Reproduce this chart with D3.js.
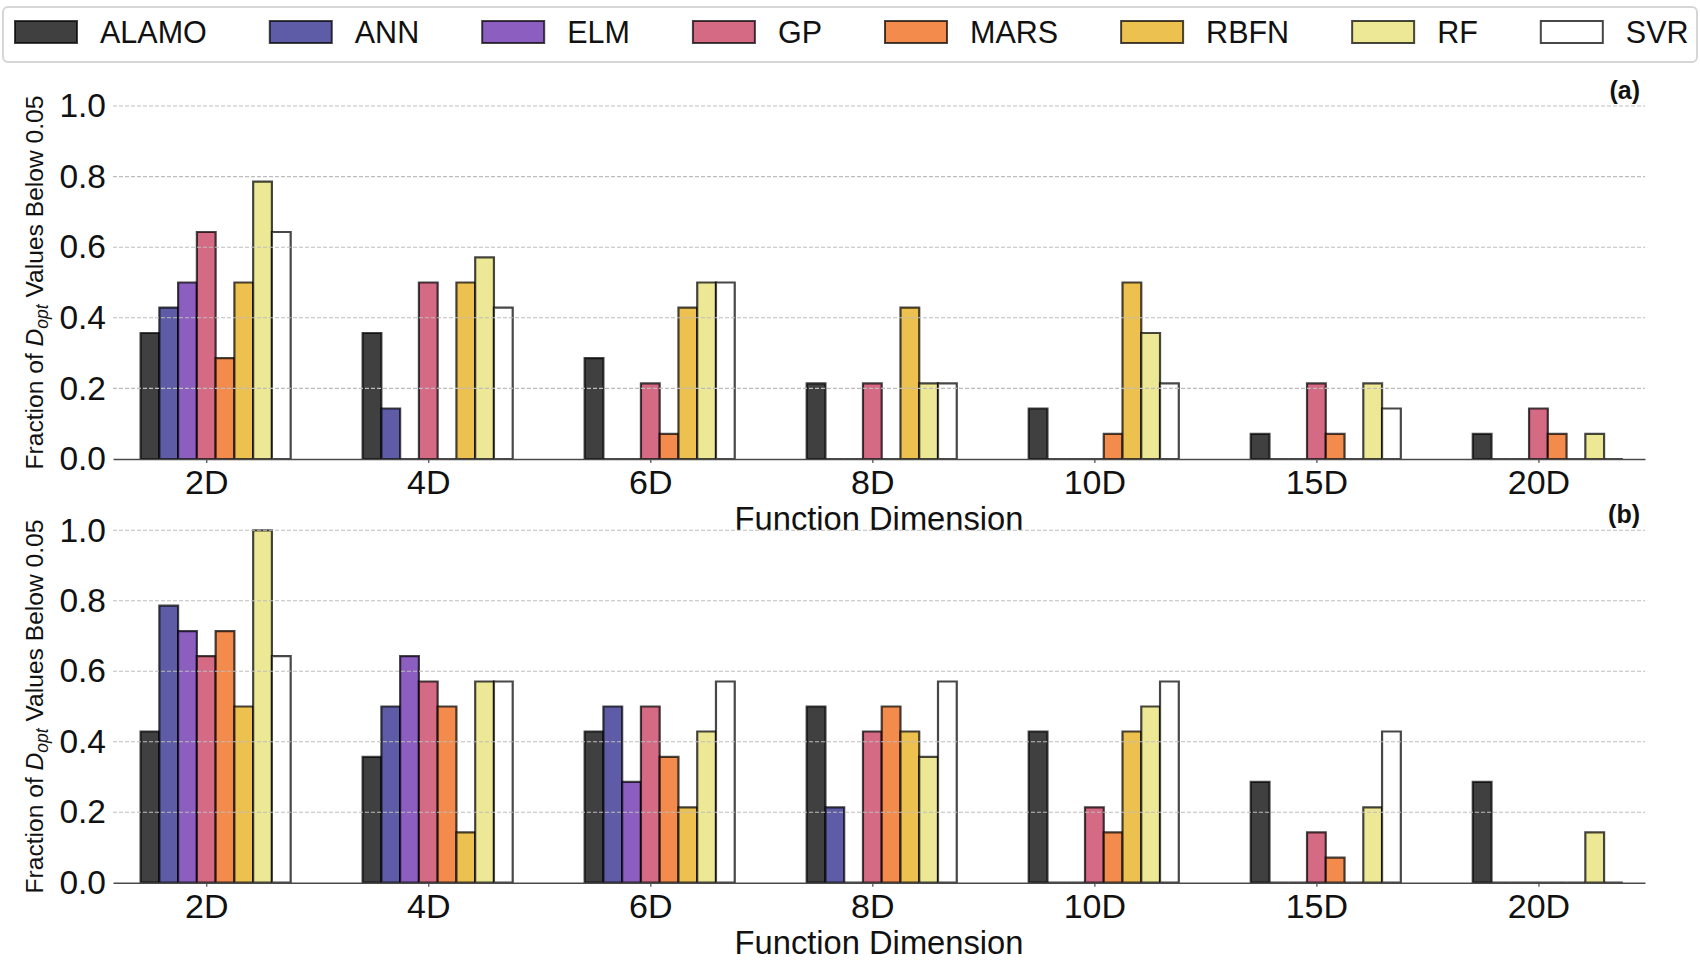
<!DOCTYPE html>
<html>
<head>
<meta charset="utf-8">
<script src="https://cdn.jsdelivr.net/npm/d3@7"></script>
<style>
  html, body { margin: 0; padding: 0; background: #fff; }
  svg { display: block; font-family: Arial, "Liberation Sans", Helvetica, sans-serif; }
</style>
</head>
<body>
<svg id="chart" width="1700" height="961"></svg>
<script>
// Function dimensions (groups along the x axis)
const dimensions = ["2D", "4D", "6D", "8D", "10D", "15D", "20D"];
// Surrogate model types (bars inside each group)
const models = ["ALAMO", "ANN", "ELM", "GP", "MARS", "RBFN", "RF", "SVR"];
const modelColors = ["#404040", "#5e5ba7", "#8b5ec0", "#d46a84", "#f38b4c", "#edc14f", "#ede896", "#ffffff"];
const yTicks = [0, 0.2, 0.4, 0.6, 0.8, 1.0];

// Panel (a): one row per model, one value per dimension
const fractionA = [
  [0.357, 0.357, 0.286, 0.214, 0.143, 0.071, 0.071], // ALAMO
  [0.429, 0.143, 0,     0,     0,     0,     0    ], // ANN
  [0.5,   0,     0,     0,     0,     0,     0    ], // ELM
  [0.643, 0.5,   0.214, 0.214, 0,     0.214, 0.143], // GP
  [0.286, 0,     0.071, 0,     0.071, 0.071, 0.071], // MARS
  [0.5,   0.5,   0.429, 0.429, 0.5,   0,     0    ], // RBFN
  [0.786, 0.571, 0.5,   0.214, 0.357, 0.214, 0.071], // RF
  [0.643, 0.429, 0.5,   0.214, 0.214, 0.143, 0    ]  // SVR
];

// Panel (b)
const fractionB = [
  [0.429, 0.357, 0.429, 0.5,   0.429, 0.286, 0.286], // ALAMO
  [0.786, 0.5,   0.5,   0.214, 0,     0,     0    ], // ANN
  [0.714, 0.643, 0.286, 0,     0,     0,     0    ], // ELM
  [0.643, 0.571, 0.5,   0.429, 0.214, 0.143, 0    ], // GP
  [0.714, 0.5,   0.357, 0.5,   0.143, 0.071, 0    ], // MARS
  [0.5,   0.143, 0.214, 0.429, 0.429, 0,     0    ], // RBFN
  [1.0,   0.571, 0.429, 0.357, 0.5,   0.214, 0.143], // RF
  [0.643, 0.571, 0.571, 0.571, 0.571, 0.429, 0    ]  // SVR
];

const svg = d3.select("#chart");
const left = 113, right = 1645;
const barWidth = 0.0845; // in group units

const x = d3.scaleLinear().domain([-0.42, 6.48]).range([left, right]);
const inner = d3.scaleBand().domain(models).range([-3.5 * barWidth, 4.5 * barWidth]);

// Legend
const legend = svg.append("g");
legend.append("rect")
  .attr("x", 3).attr("y", 7).attr("width", 1694).attr("height", 55)
  .attr("rx", 5).attr("fill", "#fff").attr("stroke", "#d6d6d6").attr("stroke-width", 2);
let lx = 15;
models.forEach((m, i) => {
  const g = legend.append("g").attr("transform", `translate(${lx},0)`);
  g.append("rect").attr("x", 0).attr("y", 21).attr("width", 62).attr("height", 22)
    .attr("fill", modelColors[i]).attr("stroke", "rgba(0,0,0,0.72)").attr("stroke-width", 2);
  const t = g.append("text").attr("x", 85).attr("y", 42.5)
    .attr("font-size", 30.5).attr("fill", "#111").text(m);
  const w = t.node().getComputedTextLength();
  lx += 85 + w + 63;
});

function panel(values, y0, y1, tag) {
  const y = d3.scaleLinear().domain([0, 1]).range([y0, y1]);
  const g = svg.append("g");

  // bars (zero values still leave their outline on the baseline)
  models.forEach((m, i) => {
    g.append("g").selectAll("path")
      .data(values[i].map((v, j) => ({ v, j })))
      .join("path")
      .attr("d", d => {
        const xa = x(d.j + inner(m)), xb = x(d.j + inner(m) + inner.bandwidth());
        return `M${xa},${y(0)}V${y(d.v)}H${xb}V${y(0)}Z`;
      })
      .attr("fill", modelColors[i])
      .attr("stroke", "rgba(0,0,0,0.72)")
      .attr("stroke-width", 2.2);
  });

  // horizontal grid (drawn above bars)
  g.append("g").selectAll("line")
    .data(yTicks.filter(t => t > 0))
    .join("line")
    .attr("x1", left).attr("x2", right)
    .attr("y1", d => y(d)).attr("y2", d => y(d))
    .attr("stroke", "#bdbdbd").attr("stroke-width", 1.1).attr("stroke-dasharray", "4,2");

  // x axis
  const xAxis = g.append("g").attr("transform", `translate(0,${y(0)})`)
    .call(d3.axisBottom(x).tickValues(d3.range(dimensions.length))
      .tickFormat(i => dimensions[i]).tickSize(4).tickSizeOuter(0).tickPadding(7));
  xAxis.select(".domain").attr("stroke", "#4a4a4a").attr("stroke-width", 1.6);
  xAxis.selectAll(".tick line").attr("stroke", "#4a4a4a").attr("stroke-width", 1.2);
  xAxis.selectAll(".tick text").attr("font-size", 34).attr("fill", "#111")
    .attr("font-family", "Arial, 'Liberation Sans', sans-serif");

  // y axis
  const yAxis = g.append("g").attr("transform", `translate(${left},0)`)
    .call(d3.axisLeft(y).tickValues(yTicks).tickFormat(d3.format(".1f")).tickSize(0).tickPadding(7));
  yAxis.select(".domain").remove();
  yAxis.selectAll(".tick text").attr("font-size", 33.5).attr("fill", "#111")
    .attr("font-family", "Arial, 'Liberation Sans', sans-serif");

  // axis titles
  g.append("text")
    .attr("x", (left + right) / 2).attr("y", y(0) + 71)
    .attr("text-anchor", "middle").attr("font-size", 32.7).attr("fill", "#111")
    .text("Function Dimension");

  const yl = g.append("text")
    .attr("transform", `translate(43,${(y0 + y1) / 2}) rotate(-90)`)
    .attr("text-anchor", "middle").attr("font-size", 24.6).attr("fill", "#111");
  yl.append("tspan").text("Fraction of ");
  yl.append("tspan").attr("font-style", "italic").text("D");
  yl.append("tspan").attr("font-style", "italic").attr("font-size", 17.5).attr("dy", 5).text("opt");
  yl.append("tspan").attr("dy", -5).text(" Values Below 0.05");

  // panel tag
  g.append("text")
    .attr("x", 1640).attr("y", y1 - 7)
    .attr("text-anchor", "end").attr("font-size", 25).attr("font-weight", "bold").attr("fill", "#111")
    .text(tag);
}

panel(fractionA, 459, 106, "(a)");
panel(fractionB, 882.7, 530.3, "(b)");
</script>
</body>
</html>
